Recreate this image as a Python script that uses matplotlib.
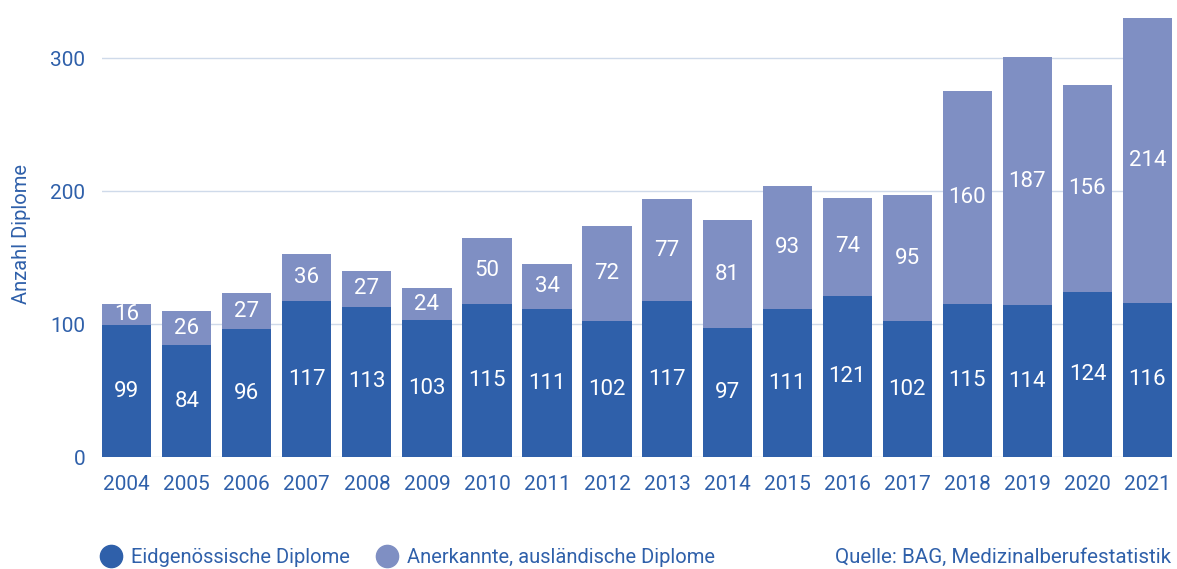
import matplotlib
matplotlib.use("Agg")
import matplotlib.pyplot as plt
from matplotlib.lines import Line2D

years = ["2004","2005","2006","2007","2008","2009","2010","2011","2012","2013",
         "2014","2015","2016","2017","2018","2019","2020","2021"]
eidg = [99,84,96,117,113,103,115,111,102,117,97,111,121,102,115,114,124,116]
anerk = [16,26,27,36,27,24,50,34,72,77,81,93,74,95,160,187,156,214]
yticks = [0, 100, 200, 300]

DARK = "#2f60aa"
LIGHT = "#7f8fc3"
TXT = "#2f60aa"
GRID = "#cfdaea"

plt.rcParams['font.family'] = ['Roboto', 'DejaVu Sans']

fig = plt.figure(figsize=(11.77, 5.69), dpi=100)
ax = fig.add_axes([0.0867, 0.1968, 0.9091, 0.783])

x = list(range(len(years)))
w = 0.82
ax.bar(x, eidg, width=w, color=DARK, zorder=3)
ax.bar(x, anerk, width=w, bottom=eidg, color=LIGHT, zorder=3)

for i in x:
    ax.text(i, eidg[i] / 2, str(eidg[i]), ha='center', va='center',
            color='white', fontsize=16, zorder=4)
    ax.text(i, eidg[i] + anerk[i] / 2, str(anerk[i]), ha='center', va='center',
            color='white', fontsize=16, zorder=4)

ax.set_xlim(-0.5 + (1 - w) / 2, len(years) - 0.5 - (1 - w) / 2)
ax.set_ylim(0, 335)
ax.set_yticks(yticks)
ax.set_xticks(x)
ax.set_xticklabels(years)
ax.grid(axis='y', color=GRID, linewidth=1, zorder=0)
for s in ax.spines.values():
    s.set_visible(False)
ax.tick_params(axis='both', length=0, labelsize=15, labelcolor=TXT)
ax.tick_params(axis='x', pad=13)
ax.tick_params(axis='y', pad=12)
ax.set_ylabel("Anzahl Diplome", color=TXT, fontsize=14.5, labelpad=14)

handles = [Line2D([0], [0], marker='o', color='none', markerfacecolor=DARK,
                  markeredgecolor=DARK, markersize=16),
           Line2D([0], [0], marker='o', color='none', markerfacecolor=LIGHT,
                  markeredgecolor=LIGHT, markersize=16)]
leg = fig.legend(handles, ["Eidgenössische Diplome", "Anerkannte, ausländische Diplome"],
                 loc='center left', bbox_to_anchor=(0.066, 0.02), ncol=2, frameon=False,
                 fontsize=14.5, handletextpad=0.25, columnspacing=1.1, handlelength=1.5)
for t in leg.get_texts():
    t.set_color(TXT)
fig.text(0.995, 0.02, "Quelle: BAG, Medizinalberufestatistik", ha='right', va='center',
         color=TXT, fontsize=14.8)

fig.savefig("out.png", dpi=100)
